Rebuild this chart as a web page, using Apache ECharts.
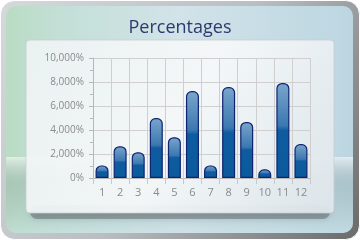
<!DOCTYPE html>
<html><head><meta charset="utf-8">
<script src="https://cdn.jsdelivr.net/npm/echarts@6/dist/echarts.min.js"></script>
<style>html,body{margin:0;padding:0;background:#fff}#c{width:360px;height:240px}</style>
</head><body><div id="c"></div>
<script>
var categories = ['1','2','3','4','5','6','7','8','9','10','11','12'];
var values = [1050, 2650, 2150, 5000, 3400, 7250, 1050, 7580, 4670, 720, 7920, 2830];
var yTicks = [0, 2000, 4000, 6000, 8000, 10000];
var title = 'Percentages';

var chart = echarts.init(document.getElementById('c'), null, {renderer:'canvas'});
function lg(x1,y1,x2,y2,stops){return new echarts.graphic.LinearGradient(x1,y1,x2,y2,stops.map(function(s){return {offset:s[0],color:s[1]};}));}
chart.setOption({
  animation:false,
  title:{text:title,left:'center',top:14,textStyle:{fontFamily:'Open Sans',fontSize:18,fontWeight:'normal',color:'#2b3a6e'}},
  graphic:[
    {type:'rect',z:-10,shape:{x:0.5,y:0.5,width:359,height:239,r:14},style:{fill:lg(0,0,1,1,[[0,'#d6d9dc'],[0.5,'#babec2'],[1,'#6a6a6a']]),stroke:'#ffffff',lineWidth:1}},
    {type:'rect',z:-9,shape:{x:6,y:6,width:347,height:227,r:10},style:{fill:lg(0,0,1,0,[[0,'#b9dcc3'],[0.15,'#c3dfd6'],[0.5,'#d2e3e9'],[1,'#bcd6e1']])}},
    {type:'rect',z:-8,shape:{x:6,y:157,width:347,height:76,r:[0,0,10,10]},style:{fill:lg(0,0,0,1,[[0,'rgba(255,255,255,0.55)'],[0.35,'rgba(120,140,140,0.25)'],[1,'rgba(200,225,230,0.4)']])}},
    {type:'rect',z:-7,shape:{x:30,y:205,width:300,height:14,r:7},style:{fill:'rgba(60,70,75,0.35)',shadowBlur:6,shadowColor:'rgba(0,0,0,0.4)'}},
    {type:'rect',z:-6,shape:{x:26,y:40,width:308,height:173,r:4},style:{fill:lg(0,0,1,1,[[0,'rgba(238,243,244,0.92)'],[0.5,'rgba(245,248,249,0.95)'],[1,'rgba(222,230,235,0.95)']]),stroke:'rgba(200,205,210,0.8)',lineWidth:1}}
  ],
  grid:{left:93,right:50,top:58,bottom:62,containLabel:false},
  xAxis:{type:'category',data:categories,boundaryGap:true,
    axisLine:{lineStyle:{color:'#b8b8b8'}},
    axisTick:{show:true,length:6,lineStyle:{color:'#c8c8c8'}},
    axisLabel:{color:'#8a8a8a',fontFamily:'Open Sans',fontSize:11,margin:9},
    splitLine:{show:true,lineStyle:{color:'#cfcfcf'}}},
  yAxis:{type:'value',min:yTicks[0],max:yTicks[yTicks.length-1],interval:2000,
    axisLine:{show:true,lineStyle:{color:'#b8b8b8'}},
    axisTick:{show:true,length:4,lineStyle:{color:'#b8b8b8'}},
    minorTick:{show:true,splitNumber:2,length:3,lineStyle:{color:'#b8b8b8'}},
    axisLabel:{color:'#8a8a8a',fontFamily:'Open Sans',fontSize:10,margin:9,
      formatter:function(v){return v.toLocaleString('en-US')+'%';}},
    splitLine:{show:true,lineStyle:{color:'#cfcfcf'}}},
  series:[{type:'bar',data:values,barWidth:'72%',
    itemStyle:{borderRadius:[5,5,0,0],borderColor:'#0f2470',borderWidth:1.2,
      color:lg(0,0,0,1,[[0,'#7aa6cc'],[0.45,'#3b78b0'],[0.5,'#0e5c9f'],[1,'#0a5a9c']])},
  }]
});
</script></body></html>
